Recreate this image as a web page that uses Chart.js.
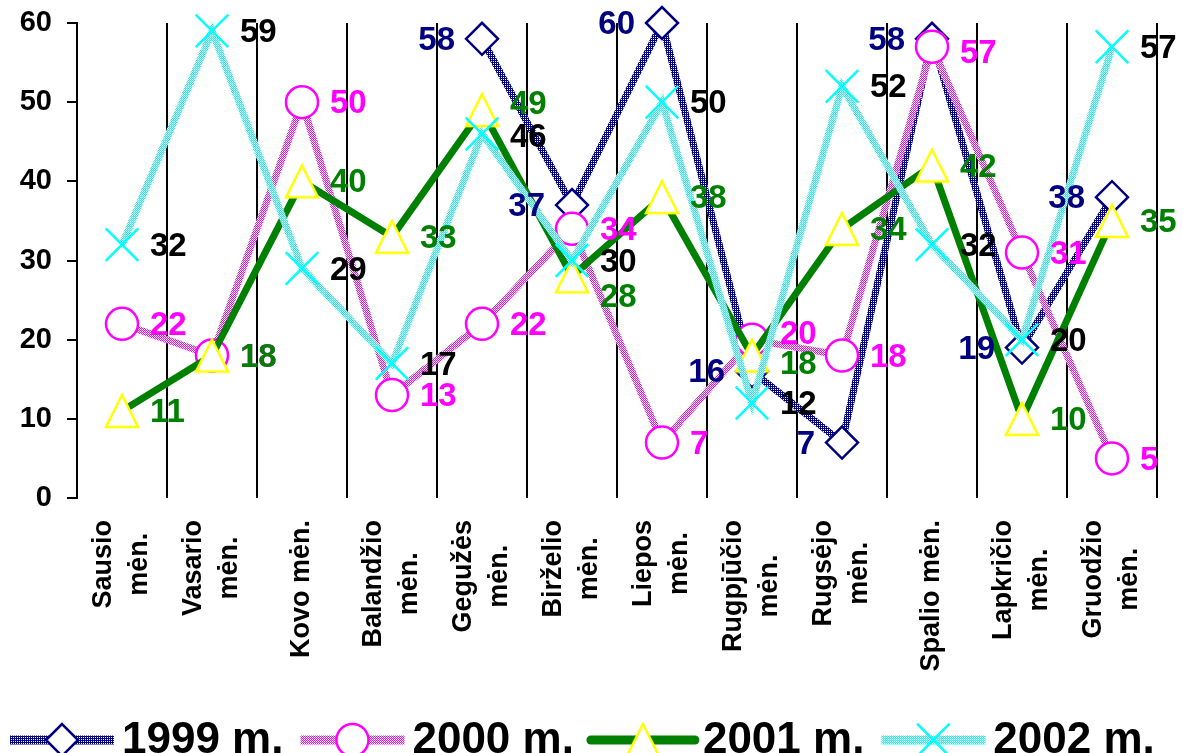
<!DOCTYPE html>
<html>
<head>
<meta charset="utf-8">
<script src="https://cdn.jsdelivr.net/npm/chart.js@4.4.0/dist/chart.umd.min.js"></script>
<style>
  html, body { margin: 0; padding: 0; background: #fff; }
  canvas { display: block; }
</style>
</head>
<body>
<canvas id="chart" width="1183" height="753"></canvas>
<script>
// chart data
const categories = [
  ['Sausio', 'mėn.'], ['Vasario', 'mėn.'], ['Kovo mėn.'], ['Balandžio', 'mėn.'],
  ['Gegužės', 'mėn.'], ['Birželio', 'mėn.'], ['Liepos', 'mėn.'], ['Rugpjūčio', 'mėn.'],
  ['Rugsėjo', 'mėn.'], ['Spalio mėn.'], ['Lapkričio', 'mėn.'], ['Gruodžio', 'mėn.']
];
const seriesNames = ['1999 m.', '2000 m.', '2001 m.', '2002 m.'];
const values1999 = [null, null, null, null, 58, 37, 60, 16, 7, 58, 19, 38];
const values2000 = [22, 18, 50, 13, 22, 34, 7, 20, 18, 57, 31, 5];
const values2001 = [11, 18, 40, 33, 49, 28, 38, 18, 34, 42, 10, 35];
const values2002 = [32, 59, 29, 17, 46, 30, 50, 12, 52, 32, 20, 57];
const yTicks = [0, 10, 20, 30, 40, 50, 60];

const FONT = '"Liberation Sans", Arial, sans-serif';
const canvas = document.getElementById('chart');
const ctx = canvas.getContext('2d');

// dotted line textures like the old office chart
function makePattern(colors) {
  const c = document.createElement('canvas');
  c.width = 2; c.height = 2;
  const g = c.getContext('2d');
  colors.forEach((col, i) => {
    g.fillStyle = col;
    g.fillRect(i % 2, Math.floor(i / 2), 1, 1);
  });
  return ctx.createPattern(c, 'repeat');
}

function triangleImage() {
  const c = document.createElement('canvas');
  c.width = 38; c.height = 36;
  const g = c.getContext('2d');
  g.beginPath();
  g.moveTo(19, 2);
  g.lineTo(35, 34);
  g.lineTo(3, 34);
  g.closePath();
  g.fillStyle = '#fff';
  g.fill();
  g.strokeStyle = '#ffff00';
  g.lineWidth = 2.5;
  g.stroke();
  return c;
}

const navyLine = makePattern(['#000080', '#000080', '#000080', '#ffffff']);
const pinkLine = makePattern(['#ff00ff', '#ffffff', '#ffffff', '#ff00ff']);
const cyanLine = makePattern(['#00ffff', '#ffffff', '#ffffff', '#00ffff']);
const triangle = triangleImage();

const labelStyles = [
  { color: '#000080', side: 'left' },
  { color: '#ff00ff', side: 'right' },
  { color: '#008000', side: 'right' },
  { color: '#000000', side: 'right' }
];
// a few labels were nudged by hand in the original
const labelNudge = { '2-5': 20, '2-4': -7, '1-7': -7, '1-9': 5, '2-7': 7, '3-4': 2 };

// value labels next to the points
const valueLabels = {
  id: 'valueLabels',
  afterDatasetsDraw(chart) {
    const c = chart.ctx;
    c.save();
    c.font = 'bold 33px ' + FONT;
    c.textBaseline = 'middle';
    chart.data.datasets.forEach((ds, di) => {
      const st = labelStyles[di];
      chart.getDatasetMeta(di).data.forEach((pt, i) => {
        const v = ds.data[i];
        if (v == null) return;
        const dy = labelNudge[di + '-' + i] || 0;
        c.fillStyle = st.color;
        if (st.side === 'left') {
          c.textAlign = 'right';
          c.fillText(String(v), pt.x - 27, pt.y + 2 + dy);
        } else {
          c.textAlign = 'left';
          c.fillText(String(v), pt.x + 28, pt.y + 2 + dy);
        }
      });
    });
    c.restore();
  }
};

// rotated month names, lines centred on each other
const monthLabels = {
  id: 'monthLabels',
  afterDraw(chart) {
    const c = chart.ctx;
    const xs = chart.scales.x;
    c.save();
    c.font = 'bold 27px ' + FONT;
    c.fillStyle = '#000';
    c.textAlign = 'center';
    c.textBaseline = 'middle';
    chart.data.labels.forEach((lines, i) => {
      const px = xs.getPixelForValue(i);
      const maxW = Math.max(...lines.map(l => c.measureText(l).width));
      const cy = chart.chartArea.bottom + 22 + maxW / 2;
      const lh = 36;
      lines.forEach((line, j) => {
        const off = (j - (lines.length - 1) / 2) * lh;
        c.save();
        c.translate(px + off, cy);
        c.rotate(-Math.PI / 2);
        c.fillText(line, 0, 0);
        c.restore();
      });
    });
    c.restore();
  }
};

// legend along the bottom edge
const bottomLegend = {
  id: 'bottomLegend',
  afterDraw(chart) {
    const c = chart.ctx;
    const y = 740;
    let x = 10;
    c.save();
    c.font = 'bold 44px ' + FONT;
    chart.data.datasets.forEach(ds => {
      c.strokeStyle = ds.borderColor;
      c.lineWidth = 9;
      c.lineCap = ds.borderCapStyle || 'butt';
      c.beginPath();
      c.moveTo(x, y);
      c.lineTo(x + 104, y);
      c.stroke();
      c.fillStyle = ds.pointBackgroundColor;
      c.strokeStyle = ds.pointBorderColor;
      c.lineWidth = ds.pointBorderWidth;
      Chart.helpers.drawPoint(c, {
        pointStyle: ds.pointStyle, radius: ds.pointRadius,
        borderWidth: ds.pointBorderWidth, rotation: 0
      }, x + 52, y);
      c.fillStyle = '#000';
      c.textAlign = 'left';
      c.textBaseline = 'alphabetic';
      c.fillText(ds.label, x + 112, 753);
      x += 112 + c.measureText(ds.label).width + 17;
    });
    c.restore();
  }
};

new Chart(canvas, {
  type: 'line',
  data: {
    labels: categories,
    datasets: [
      {
        label: seriesNames[0], data: values1999, order: 3, clip: false,
        borderColor: navyLine, borderWidth: 7,
        pointStyle: 'rectRot', pointRadius: 16,
        pointBackgroundColor: '#fff', pointBorderColor: '#000080', pointBorderWidth: 2.5
      },
      {
        label: seriesNames[1], data: values2000, order: 2, clip: false,
        borderColor: pinkLine, borderWidth: 7,
        pointStyle: 'circle', pointRadius: 16,
        pointBackgroundColor: '#fff', pointBorderColor: '#ff00ff', pointBorderWidth: 2.5
      },
      {
        label: seriesNames[2], data: values2001, order: 1, clip: false,
        borderColor: '#008000', borderWidth: 7, borderCapStyle: 'round',
        pointStyle: triangle, pointRadius: 16,
        pointBackgroundColor: '#fff', pointBorderColor: '#ffff00', pointBorderWidth: 2.5
      },
      {
        label: seriesNames[3], data: values2002, order: 0, clip: false,
        borderColor: cyanLine, borderWidth: 7,
        pointStyle: 'crossRot', pointRadius: 23,
        pointBackgroundColor: '#00ffff', pointBorderColor: '#00ffff', pointBorderWidth: 2.5
      }
    ]
  },
  options: {
    responsive: false,
    animation: false,
    events: [],
    layout: { autoPadding: false, padding: { top: 23, right: 26, bottom: 85, left: 0 } },
    elements: { line: { tension: 0 } },
    plugins: {
      legend: { display: false },
      tooltip: { enabled: false }
    },
    scales: {
      x: {
        offset: true,
        grid: { offset: true, drawTicks: false, color: '#000', lineWidth: 2 },
        border: { display: false },
        ticks: { display: false },
        afterFit(scale) { scale.height = 170; }
      },
      y: {
        min: yTicks[0],
        max: yTicks[yTicks.length - 1],
        afterBuildTicks(scale) { scale.ticks = yTicks.map(v => ({ value: v })); },
        ticks: {
          color: '#000',
          padding: 15,
          font: { family: FONT, size: 29, weight: 'bold' }
        },
        grid: { drawOnChartArea: false, drawTicks: true, tickLength: 10, color: '#000', lineWidth: 2 },
        border: { display: true, color: '#000', width: 2 },
        afterFit(scale) {
          scale.width = 77;
          scale.paddingTop = 0;
          scale.paddingBottom = 0;
        }
      }
    }
  },
  plugins: [valueLabels, monthLabels, bottomLegend]
});
</script>
</body>
</html>
